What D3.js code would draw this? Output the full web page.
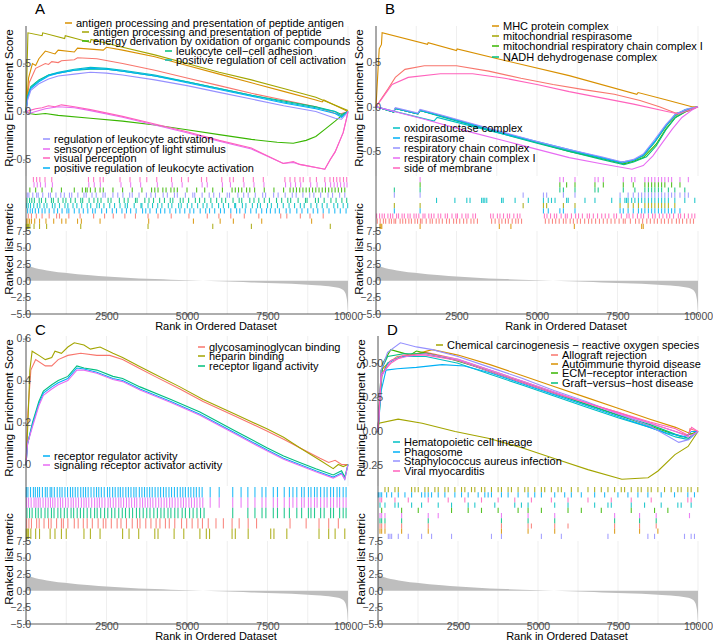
<!DOCTYPE html>
<html>
<head>
<meta charset="utf-8">
<script src="https://cdn.jsdelivr.net/npm/d3@7"></script>
<style>
  body { margin: 0; background: #fff; }
  svg { display: block; font-family: "Liberation Sans", Arial, sans-serif; }
</style>
</head>
<body>
<svg id="chart" width="713" height="643"></svg>
<script>
// ggplot hue palettes
var hue10 = ["#F8766D", "#D89000", "#A3A500", "#39B600", "#00BF7D", "#00BFC4", "#00B0F6", "#9590FF", "#E76BF3", "#FF62BC"];
var hue5 = ["#F8766D", "#A3A500", "#00BF7D", "#00B0F6", "#E76BF3"];

// shared x axis (rank) and ranked list metric
var rankDomain = [0, 10000];
var majorRanks = [2500, 5000, 7500, 10000];
var minorRanks = [1250, 3750, 6250, 8750];
var metricTicks = [-5, -2.5, 0, 2.5, 5, 7.5];
var metricRank = [0, 20, 60, 150, 300, 500, 800, 1200, 1600, 2000, 2500, 3000, 3500, 4000, 4500, 5000, 5500, 6000, 6500, 7000, 7500, 8000, 8500, 9000, 9300, 9500, 9700, 9800, 9900, 9950, 9980, 10000];
var metricValue = [2.8, 2.5, 2.3, 2.1, 1.9, 1.7, 1.45, 1.2, 1.0, 0.82, 0.64, 0.48, 0.36, 0.26, 0.16, 0.08, 0.0, -0.08, -0.16, -0.24, -0.33, -0.42, -0.53, -0.66, -0.77, -0.88, -1.05, -1.25, -1.7, -2.4, -3.4, -5.0];

// ---------- panel A ----------
var namesA = ["", "antigen processing and presentation of peptide antigen", "antigen processing and presentation of peptide",
  "energy derivation by oxidation of organic compounds", "leukocyte cell\u2212cell adhesion", "positive regulation of cell activation",
  "positive regulation of leukocyte activation", "regulation of leukocyte activation", "sensory perception of light stimulus", "visual perception"];
var scoreTicksA = [-0.5, 0, 0.5];
var esA = [
  [[0,0],[100,0.3],[300,0.45],[600,0.5],[700,0.49],[800,0.52],[1000,0.51],[1100,0.53],[1500,0.54],[1600,0.56],[2200,0.55],[3000,0.5],[4000,0.43],[5000,0.35],[6000,0.27],[7000,0.19],[8000,0.12],[9000,0.05],[9700,-0.03],[10000,0]],
  [[0,0],[80,0.35],[200,0.5],[300,0.48],[400,0.55],[600,0.63],[900,0.6],[1000,0.64],[1500,0.62],[1600,0.66],[2400,0.64],[2500,0.67],[3000,0.64],[4000,0.57],[5000,0.48],[6000,0.39],[7000,0.3],[8000,0.21],[9000,0.12],[9200,0.1],[9250,0.12],[10000,0]],
  [[0,0],[40,0.55],[60,0.82],[500,0.79],[520,0.82],[1200,0.76],[1220,0.79],[2000,0.72],[2020,0.75],[3000,0.67],[4000,0.59],[5000,0.5],[6000,0.41],[7000,0.33],[8000,0.24],[9000,0.15],[10000,0.01]],
  [[0,0],[100,-0.02],[300,-0.03],[600,-0.02],[1000,-0.04],[2000,-0.07],[3000,-0.1],[4000,-0.14],[5000,-0.19],[6000,-0.24],[7000,-0.29],[7800,-0.32],[8300,-0.33],[8700,-0.3],[9000,-0.26],[9300,-0.18],[9600,-0.1],[9850,-0.03],[10000,0]],
  [[0,0],[50,0.16],[150,0.26],[400,0.33],[700,0.38],[1000,0.4],[1500,0.43],[2000,0.44],[2500,0.44],[3000,0.42],[4000,0.37],[5000,0.31],[6000,0.24],[7000,0.17],[8000,0.11],[9000,0.05],[9600,0.0],[9800,-0.03],[10000,0]],
  [[0,0],[50,0.15],[150,0.25],[400,0.32],[700,0.38],[1000,0.41],[1500,0.44],[2000,0.46],[2500,0.45],[3000,0.43],[4000,0.38],[5000,0.31],[6000,0.24],[7000,0.17],[8000,0.1],[9000,0.04],[9600,0.0],[9800,-0.05],[10000,0]],
  [[0,0],[50,0.14],[150,0.24],[400,0.31],[700,0.37],[1000,0.4],[1500,0.43],[2000,0.45],[2500,0.44],[3000,0.42],[4000,0.37],[5000,0.3],[6000,0.23],[7000,0.16],[8000,0.09],[9000,0.03],[9600,-0.02],[9800,-0.06],[10000,0]],
  [[0,0],[50,0.12],[150,0.22],[400,0.29],[700,0.34],[1000,0.37],[1500,0.39],[2000,0.41],[2500,0.4],[3000,0.38],[4000,0.33],[5000,0.27],[6000,0.2],[7000,0.13],[8000,0.06],[9000,0.0],[9600,-0.07],[9800,-0.08],[10000,0]],
  [[0,0],[100,-0.02],[300,0.0],[600,0.03],[1000,0.05],[1500,0.04],[2000,0.01],[3000,-0.06],[4000,-0.14],[5000,-0.22],[6000,-0.31],[7000,-0.39],[7990,-0.54],[8300,-0.53],[8500,-0.55],[9280,-0.6],[9450,-0.5],[9600,-0.42],[9750,-0.3],[9850,-0.22],[9950,-0.08],[10000,0]],
  [[0,0],[100,0.01],[300,0.03],[500,0.04],[700,0.06],[900,0.05],[1100,0.07],[1500,0.05],[2000,0.02],[3000,-0.05],[4000,-0.13],[5000,-0.21],[6000,-0.3],[7000,-0.38],[7990,-0.54],[8300,-0.52],[8500,-0.55],[9280,-0.6],[9450,-0.5],[9600,-0.42],[9750,-0.3],[9850,-0.22],[9950,-0.08],[10000,0]]
];
var hitsA = [
  [70,170,320,500,720,950,1040,1330,1680,2100,2440,2710,3070,3400,3790,4100,4510,5060,5630,5990,6360,6780,7230,7910,8100,8520,8820,9230],
  [20,60,110,170,270,420,620,860,1110,1240,1600,1720,2300,3810,5200,6030,6440,7320,8870],
  [10,30,50,80,120,250,420,640,1700,3790,5800,7000,9450],
  [120,300,500,800,1100,1500,1750,1850,1900,2000,2150,2300,2400,2700,3000,3300,3600,3900,4000,4100,4250,4350,4500,4600,4700,5000,5300,5550,5800,6100,6400,6500,6600,6700,6850,6950,7100,7400,7700,8000,8200,8300,8400,8500,8600,8700,8800,8900,9000,9100,9200,9300,9400,9500,9600,9700,9800,9900],
  [30,110,180,260,410,480,610,790,850,1000,1150,1240,1390,1530,1700,1760,1960,2110,2230,2330,2550,2640,2900,3050,3170,3400,3450,3690,3820,3960,4150,4300,4480,4560,4790,4880,5050,5260,5390,5550,5740,5920,6080,6200,6430,6620,6700,6950,7080,7230,7400,7560,7780,7940,8130,8220,8450,8680,8730,8990,9080,9260,9470,9630,9810,9960],
  [20,70,140,240,350,430,560,650,820,900,1040,1210,1300,1460,1580,1730,1900,2010,2200,2280,2420,2600,2750,2920,3080,3150,3360,3570,3600,3790,3930,4090,4220,4420,4530,4740,4820,5010,5150,5330,5500,5620,5780,5980,6130,6290,6480,6510,6720,6830,7030,7190,7280,7500,7620,7810,7990,8170,8340,8520,8640,8850,9030,9200,9350,9560,9680,9850,9990],
  [50,130,200,290,390,500,590,720,870,980,1120,1270,1330,1500,1650,1780,1920,2070,2150,2350,2500,2680,2810,2980,3120,3250,3420,3620,3720,3850,4050,4180,4310,4470,4650,4780,4930,5090,5210,5410,5580,5700,5860,6040,6160,6360,6540,6640,6810,6980,7150,7320,7470,7590,7740,7870,8080,8200,8410,8570,8750,8920,9060,9230,9410,9590,9760,9940],
  [40,90,210,330,380,520,700,760,930,1080,1190,1350,1420,1610,1800,1870,2050,2180,2390,2460,2700,2850,3010,3220,3300,3510,3740,3880,4020,4260,4390,4610,4700,4950,5180,5240,5470,5690,5830,6010,6250,6320,6580,6760,6900,7120,7350,7440,7690,7830,8050,8270,8390,8600,8810,8940,9150,9380,9520,9740,9900],
  [250,350,450,600,820,1950,2120,2310,2950,3250,3560,4080,4540,4850,5470,5630,6100,6350,6770,7080,7390,8060,8220,8370,8530,8840,9040,9300,9460,9570,9670,9770,9880,9970],
  [230,330,430,590,800,1940,2100,2300,2400,2920,3230,3540,3750,4060,4520,4830,5040,5450,5610,6080,6330,6440,6750,7060,7370,8040,8200,8350,8510,8610,8820,9020,9280,9440,9550,9650,9750,9860,9960]
];
var rowsA = [9, 8, 3, 7, 4, 5, 6, 0, 1, 2];

// ---------- panel B ----------
var namesB = ["", "MHC protein complex", "mitochondrial respirasome", "mitochondrial respiratory chain complex I",
  "NADH dehydrogenase complex", "oxidoreductase complex", "respirasome", "respiratory chain complex",
  "respiratory chain complex I", "side of membrane"];
var scoreTicksB = [-0.5, 0, 0.5];
var esB = [
  [[0,0],[150,0.08],[370,0.2],[600,0.33],[900,0.42],[1500,0.46],[2500,0.46],[3500,0.4],[4500,0.32],[5500,0.25],[6500,0.19],[7400,0.14],[8200,0.07],[8800,0.0],[9300,-0.07],[9700,-0.05],[10000,0]],
  [[0,0],[60,0.4],[100,0.65],[170,0.7],[190,0.83],[1600,0.7],[1620,0.72],[2500,0.63],[2520,0.65],[4000,0.52],[6000,0.35],[8100,0.14],[8140,0.16],[9000,0.08],[9810,0.0],[10000,0]],
  [[0,0],[550,-0.06],[600,-0.02],[1300,-0.08],[1370,-0.04],[2000,-0.1],[3000,-0.2],[4000,-0.3],[5000,-0.4],[6000,-0.49],[7000,-0.57],[7650,-0.63],[8000,-0.6],[8300,-0.55],[8650,-0.4],[9000,-0.22],[9300,-0.1],[9600,-0.04],[10000,0]],
  [[0,0],[550,-0.06],[600,-0.02],[1300,-0.08],[1370,-0.04],[2000,-0.1],[3000,-0.2],[4000,-0.3],[5000,-0.4],[6000,-0.5],[7000,-0.58],[7700,-0.64],[8000,-0.61],[8300,-0.57],[8700,-0.42],[9000,-0.25],[9300,-0.12],[9700,-0.04],[10000,0]],
  [[0,0],[550,-0.06],[600,-0.02],[1300,-0.08],[1370,-0.04],[2000,-0.11],[3000,-0.21],[4000,-0.31],[5000,-0.41],[6000,-0.5],[7000,-0.59],[7700,-0.65],[8000,-0.62],[8400,-0.56],[8700,-0.44],[9000,-0.26],[9300,-0.12],[9700,-0.03],[10000,0]],
  [[0,0],[1800,-0.16],[1900,-0.12],[3000,-0.22],[4000,-0.31],[5000,-0.4],[6000,-0.49],[7000,-0.57],[7600,-0.62],[8000,-0.6],[8300,-0.55],[8650,-0.4],[9000,-0.22],[9300,-0.08],[9700,-0.03],[10000,0]],
  [[0,0],[550,-0.06],[600,-0.02],[1300,-0.08],[1370,-0.04],[2000,-0.1],[3000,-0.2],[4000,-0.3],[5000,-0.39],[6000,-0.48],[7000,-0.57],[7650,-0.63],[8000,-0.6],[8300,-0.54],[8650,-0.39],[9000,-0.21],[9300,-0.09],[9600,-0.03],[10000,0]],
  [[0,0],[550,-0.05],[600,-0.01],[1300,-0.07],[1370,-0.03],[2000,-0.09],[3000,-0.19],[4000,-0.29],[5000,-0.39],[6000,-0.48],[7000,-0.56],[7650,-0.62],[8000,-0.59],[8300,-0.53],[8650,-0.37],[9000,-0.2],[9300,-0.08],[9700,-0.02],[10000,0]],
  [[0,0],[1500,-0.14],[3000,-0.29],[4500,-0.43],[6000,-0.57],[7000,-0.64],[7950,-0.7],[8300,-0.66],[8600,-0.55],[8900,-0.4],[9200,-0.25],[9500,-0.12],[9800,-0.04],[10000,0]],
  [[0,0],[200,0.1],[500,0.25],[1000,0.33],[2000,0.37],[3000,0.37],[4000,0.32],[5000,0.25],[6000,0.17],[7000,0.1],[8000,0.03],[9000,-0.05],[9400,-0.08],[9700,-0.04],[10000,0]]
];
var hitsB = [
  [40,130,230,300,410,480,560,610,750,830,920,1020,1100,1210,1290,1380,1430,1560,1680,1750,1870,1960,2060,2190,2280,2410,2500,2600,2720,2820,2950,3040,3150,3590,3700,3820,3910,4020,4110,4230,4340,4420,4520,5260,5370,5480,5580,5690,5820,5900,6030,6130,6250,6350,6480,6600,6700,6820,6940,7060,7180,7300,7420,7550,7680,7740,7900,8060,8170,8280,8410,8520,8640,8740,8860,8960,9080,9190,9330,9420,9520,9650,9760,9860],
  [120,150,180,1370,3830,4190,6160,8250,8300],
  [570,1370,4570,5200,5300,5820,6180,7580,7830,7990,8150,8350,8460,8560,8660,8770,8870,8970,9080,9280],
  [1370,5710,5920,6180,6800,7060,7680,7990,8350,8460,8560,8660,8770,8870,8970,9180,9440],
  [570,1370,5710,5820,6180,6800,6900,7680,8040,8350,8460,8560,8660,8770,8870,9080,9280,9590],
  [1880,2450,2820,2920,3280,3330,3380,3440,3900,3950,4320,4730,5200,5350,5450,5560,5920,5970,6490,6800,7320,7580,7730,7780,7830,7940,8040,8150,8250,8350,8460,8560,8660,8770,8870,8970,9080,9280,9590,9900],
  [570,1370,5200,5350,5710,5820,6180,7580,7680,7830,7990,8150,8250,8350,8460,8560,8660,8770,8870,8970,9080,9180,9280,9440],
  [570,1370,4570,5200,5300,5820,6180,7580,7830,7990,8150,8250,8350,8460,8560,8660,8770,8870,8970,9080,9180,9280,9440,9590,9700],
  [1370,5710,5820,6180,6800,6900,7060,7680,7940,8040,8350,8460,8560,8660,8770,8870,8970,9080,9180,9440,9700],
  [20,110,190,260,370,450,520,640,700,810,880,990,1060,1180,1250,1330,1460,1520,1640,1720,1800,1930,2010,2150,2220,2360,2480,2530,2670,2790,2860,3010,3090,3560,3640,3770,3850,3960,4080,4150,4280,4390,4470,5230,5310,5420,5540,5610,5750,5880,5940,6070,6200,6290,6410,6560,6630,6750,6880,7010,7120,7230,7390,7470,7620,7790,7860,7980,8120,8230,8310,8460,8590,8670,8800,8910,9030,9120,9240,9390,9460,9580,9700,9810,9900]
];
var rowsB = [8, 3, 4, 7, 5, 2, 6, 9, 0, 1];

// ---------- panel C ----------
var namesC = ["glycosaminoglycan binding", "heparin binding", "receptor ligand activity", "receptor regulator activity", "signaling receptor activator activity"];
var scoreTicksC = [0, 0.2, 0.4, 0.6];
var esC = [
  [[0,0],[60,0.25],[150,0.45],[300,0.5],[600,0.47],[800,0.47],[1000,0.5],[1300,0.52],[1700,0.53],[2200,0.52],[2600,0.52],[3000,0.5],[3500,0.46],[4000,0.42],[4780,0.36],[5500,0.3],[6500,0.23],[7480,0.16],[8000,0.12],[8500,0.08],[9130,0.03],[9400,0.01],[9600,0.02],[9800,0.0],[10000,0]],
  [[0,0],[60,0.2],[120,0.45],[190,0.54],[400,0.52],[600,0.5],[800,0.51],[900,0.54],[1100,0.53],[1300,0.56],[1500,0.58],[1800,0.57],[2000,0.55],[2300,0.56],[2700,0.53],[3000,0.51],[3500,0.47],[4000,0.43],[4780,0.37],[5500,0.31],[6500,0.24],[7480,0.17],[8000,0.13],[8500,0.08],[9130,0.02],[9540,-0.02],[9700,0.0],[9850,-0.01],[10000,0]],
  [[0,0],[50,0.1],[200,0.2],[400,0.3],[540,0.35],[800,0.38],[1000,0.4],[1300,0.42],[1580,0.47],[1800,0.46],[2200,0.45],[2700,0.42],[3000,0.41],[3540,0.37],[4500,0.31],[5400,0.25],[6500,0.16],[7480,0.08],[8000,0.04],[8500,0.01],[9000,-0.02],[9540,-0.05],[9800,-0.03],[9900,-0.06],[10000,0]],
  [[0,0],[50,0.1],[200,0.19],[400,0.29],[540,0.34],[800,0.37],[1000,0.39],[1300,0.41],[1580,0.46],[1800,0.455],[2200,0.44],[2700,0.41],[3000,0.4],[3540,0.36],[4500,0.3],[5400,0.24],[6500,0.15],[7480,0.07],[8000,0.03],[8500,0.0],[9000,-0.03],[9540,-0.06],[9800,-0.04],[9900,-0.07],[10000,0]],
  [[0,0],[50,0.1],[200,0.18],[400,0.28],[540,0.33],[800,0.36],[1000,0.38],[1300,0.4],[1580,0.45],[1800,0.45],[2200,0.435],[2700,0.405],[3000,0.395],[3540,0.355],[4500,0.295],[5400,0.235],[6500,0.145],[7480,0.065],[8000,0.025],[8500,-0.005],[9000,-0.035],[9540,-0.065],[9800,-0.045],[9900,-0.07],[10000,0]]
];
var hitsC = [
  [20,90,170,330,410,560,700,780,950,1100,1160,1300,1500,1620,1780,1900,2060,2240,2400,2480,2650,2830,2950,3120,3300,3460,3540,3720,3880,4040,4160,4330,4450,4620,4830,4990,5160,5340,5480,5660,5900,6130,6400,6620,6900,7160,8200,8700,9100,9400,9700],
  [10,40,80,150,300,420,750,900,1100,1250,1800,2000,2300,3000,3200,3500,4000,4100,4600,4900,5400,5600,5700,6400,6500,6900,7600,7700,8100,9100,9400,9600,9900],
  [30,110,190,300,380,470,590,680,790,870,990,1080,1190,1280,1400,1480,1590,1690,1790,1900,2010,2130,2210,2320,2440,2540,2660,2760,2880,2990,3090,3210,3310,3430,3530,3640,3750,3850,3970,4080,4190,4290,4410,4500,4620,4720,4850,4950,5080,5190,5310,5420,5530,6420,6890,7110,7330,7450,7680,7810,8020,8180,8410,8560,8770,8850,8960,9150,9260,9460,9550,9740,9850,9940],
  [10,60,140,230,290,360,420,510,600,660,750,800,880,970,1050,1120,1210,1290,1380,1450,1530,1610,1700,1780,1850,1930,2020,2110,2190,2260,2340,2430,2530,2600,2690,2770,2860,2930,3010,3100,3180,3260,3350,3420,3520,3600,3680,3760,3840,3920,4010,4100,4180,4270,4350,4440,4520,4610,4700,4790,4870,4950,5040,5120,5210,5290,5380,5470,5720,6000,6420,6680,6890,7110,7330,7450,7680,7810,8020,8180,8290,8410,8560,8640,8770,8850,8960,9040,9150,9260,9350,9460,9550,9660,9740,9850,9940],
  [20,80,160,250,310,380,440,530,610,690,760,830,900,990,1070,1140,1230,1310,1400,1470,1550,1630,1720,1800,1870,1950,2040,2130,2210,2280,2360,2450,2550,2620,2710,2790,2880,2950,3030,3120,3200,3280,3370,3440,3540,3620,3700,3780,3860,3940,4030,4120,4200,4290,4370,4460,4540,4630,4720,4810,4890,4970,5060,5140,5230,5310,5400,5490,5720,6000,6420,6680,6890,7110,7330,7450,7680,7810,8020,8180,8290,8410,8560,8640,8770,8850,8960,9040,9150,9260,9350,9460,9550,9660,9740,9850,9940]
];
var rowsC = [3, 4, 2, 0, 1];

// ---------- panel D ----------
var namesD = ["Allograft rejection", "Autoimmune thyroid disease", "Chemical carcinogenesis \u2212 reactive oxygen species",
  "ECM\u2212receptor interaction", "Graft\u2212versus\u2212host disease", "Hematopoietic cell lineage", "Phagosome",
  "Staphylococcus aureus infection", "", "Viral myocarditis"];
var scoreTicksD = [-0.25, 0, 0.25, 0.5];
var esD = [
  [[0,0],[100,0.4],[300,0.5],[600,0.55],[1000,0.56],[1500,0.58],[2500,0.53],[3500,0.45],[4500,0.37],[5500,0.29],[6500,0.21],[7500,0.14],[8500,0.06],[9300,0.0],[9700,-0.03],[9750,0.02],[10000,0]],
  [[0,0],[100,0.45],[400,0.52],[800,0.55],[1200,0.57],[1700,0.6],[2500,0.56],[3500,0.49],[4500,0.41],[5500,0.33],[6500,0.25],[7500,0.17],[8500,0.09],[9300,0.03],[9800,-0.02],[10000,0]],
  [[0,0],[30,0.06],[630,0.09],[1380,0.06],[2410,0.0],[3440,-0.05],[4500,-0.12],[5530,-0.2],[6560,-0.28],[7620,-0.35],[8440,-0.34],[8750,-0.29],[9280,-0.17],[9690,-0.11],[10000,0]],
  [[0,0],[150,0.5],[400,0.6],[700,0.58],[1000,0.56],[1200,0.59],[2000,0.55],[3000,0.48],[4000,0.4],[5000,0.32],[6000,0.24],[7000,0.16],[8000,0.08],[9000,0.0],[9500,-0.04],[10000,0]],
  [[0,0],[100,0.45],[300,0.55],[800,0.57],[1500,0.57],[2500,0.52],[3500,0.44],[4500,0.36],[5500,0.28],[6500,0.2],[7500,0.12],[8500,0.05],[9300,-0.02],[9700,-0.05],[10000,0]],
  [[0,0],[100,0.4],[300,0.5],[700,0.55],[1500,0.55],[2500,0.5],[3500,0.42],[4500,0.34],[5500,0.26],[6500,0.18],[7500,0.1],[8500,0.03],[9300,-0.04],[9700,-0.06],[10000,0]],
  [[0,0],[100,0.3],[250,0.45],[600,0.46],[1200,0.47],[2000,0.49],[2700,0.48],[3500,0.43],[4500,0.35],[5500,0.27],[6500,0.19],[7500,0.11],[8500,0.03],[9000,-0.01],[9600,-0.04],[9800,0.0],[10000,0]],
  [[0,0],[100,0.45],[300,0.58],[700,0.65],[1200,0.62],[1700,0.6],[2500,0.55],[3500,0.47],[4500,0.39],[5500,0.3],[6500,0.22],[7500,0.13],[8500,0.04],[9400,-0.08],[9700,-0.06],[10000,0]],
  [[0,0],[100,0.4],[400,0.52],[900,0.55],[1500,0.57],[2500,0.53],[3500,0.45],[4500,0.37],[5500,0.29],[6500,0.21],[7500,0.13],[8500,0.06],[9300,0.0],[9700,-0.04],[10000,0]],
  [[0,0],[100,0.42],[400,0.5],[800,0.56],[1500,0.56],[2500,0.52],[3500,0.44],[4500,0.36],[5500,0.28],[6500,0.21],[7500,0.14],[8500,0.07],[9300,0.02],[9700,-0.03],[9800,0.03],[10000,0]]
];
var hitsD = [
  [62,114,218,738,1570,3858,4690,4794,5522,5938,7394,8174,8694],
  [62,114,218,738,1570,3858,4690,5522,7394,8174,8746],
  [218,322,530,634,1050,1154,1258,1466,1570,1778,1882,2090,2194,2402,2610,2714,2922,3026,3234,3338,3546,3754,3858,4066,4170,4378,4586,4690,4898,5106,5210,5418,5626,5730,6042,6250,6562,6770,6978,7186,7394,7602,7706,7914,8122,8226,8434,8538,8746,8954,9162,9370,9474,9682,9786,9994],
  [114,738,1258,2298,2818,3234,3754,4378,4690,5106,5938,6354,6978,7914,8642,9058],
  [62,114,218,738,1570,3858,4690,5522,7394,8174,8694],
  [62,218,530,634,1050,1362,1882,2298,2818,3026,3650,4274,4482,4690,5522,5938,6770,7186,7290,7914,8330,8850,9370,9474,9786],
  [10,62,114,270,426,634,842,1050,1362,1466,1570,1674,1882,2090,2402,2610,2818,3130,3338,3442,3546,3858,4066,4378,4690,4898,5106,5522,5834,6042,6354,6770,7082,7498,7810,8122,8434,8850,9266,9682,9890],
  [322,374,426,634,946,1362,1674,2298,3546,3858,5106,5730,7186,8434,8642,9578,9786,9890],
  [62,114,218,738,1570,1882,3858,4690,5522,7394,8174,8694,9734],
  [62,114,530,946,1570,2194,2714,3234,3754,4274,4794,5418,5938,6562,7290,7914,8538,9682,9786]
];
var rowsD = [2, 6, 9, 5, 3, 8, 4, 0, 1, 7];

// ---------- layout ----------
var panels = [
  { tag: "A", names: namesA, es: esA, hits: hitsA, rows: rowsA, ticks: scoreTicksA, fmt: ".1f", pal: hue10, left: 26, right: 348, top: 0,
    legend: [[1,65,23],[2,82,32],[3,82,41],[4,165,51],[5,165,60],[7,43,139],[8,43,149],[9,43,158],[6,43,168]] },
  { tag: "B", names: namesB, es: esB, hits: hitsB, rows: rowsB, ticks: scoreTicksB, fmt: ".1f", pal: hue10, left: 376, right: 698, top: 0,
    mask: [350, 0, 363, 311],
    legend: [[1,492,26],[2,492,36],[3,492,46],[4,492,57],[5,393,128],[6,393,138],[7,393,148],[8,393,158],[9,393,168]] },
  { tag: "C", names: namesC, es: esC, hits: hitsC, rows: rowsC, ticks: scoreTicksC, fmt: ".1f", pal: hue5, left: 26, right: 348, top: 310,
    legend: [[0,198,347],[1,198,356],[2,198,366],[3,43,456],[4,43,465]] },
  { tag: "D", names: namesD, es: esD, hits: hitsD, rows: rowsD, ticks: scoreTicksD, fmt: ".2f", pal: hue10, left: 378, right: 698, top: 310,
    legend: [[2,436,345],[0,551,355],[1,551,364],[3,551,373],[4,551,383],[5,393,442],[6,393,452],[7,393,461],[9,393,471]] }
];

var svg = d3.select("#chart");
svg.append("rect").attr("width", 713).attr("height", 643).attr("fill", "#fff");

panels.forEach(drawPanel);

function drawPanel(p) {
  var g = svg.append("g");
  if (p.mask) {
    g.append("rect").attr("x", p.mask[0]).attr("y", p.mask[1])
      .attr("width", p.mask[2]).attr("height", p.mask[3]).attr("fill", "#fff");
  }

  var x = d3.scaleLinear().domain(rankDomain).range([p.left, p.right]);

  // ggplot style 5% expansion of the running score range
  var vals = [];
  p.es.forEach(function(s) { s.forEach(function(d) { vals.push(d[1]); }); });
  var lo = d3.min(vals), hi = d3.max(vals), pad = (hi - lo) * 0.05;
  var y = d3.scaleLinear().domain([lo - pad, hi + pad]).range([p.top + 176, p.top + 26]);
  var ym = d3.scaleLinear().domain(d3.extent(metricTicks)).range([p.top + 314, p.top + 231]);

  // vertical grid in score and metric panels
  var grid = [0].concat(majorRanks, minorRanks);
  [[p.top + 26, p.top + 176], [p.top + 231, p.top + 314]].forEach(function(r) {
    g.selectAll(null).data(grid).enter().append("line")
      .attr("x1", function(d) { return x(d); }).attr("x2", function(d) { return x(d); })
      .attr("y1", r[0]).attr("y2", r[1])
      .attr("stroke", "#EBEBEB").attr("stroke-width", 0.8);
  });

  // ranked list metric
  var metric = metricRank.map(function(r, i) { return [r, metricValue[i]]; });
  g.append("path").datum(metric)
    .attr("d", d3.area().x(function(d) { return x(d[0]); }).y0(ym(0)).y1(function(d) { return ym(d[1]); }).curve(d3.curveMonotoneX))
    .attr("fill", "#BEBEBE");

  // hit rugs, one row per gene set
  var rh = 52 / p.rows.length;
  p.rows.forEach(function(si, ri) {
    g.selectAll(null).data(p.hits[si]).enter().append("line")
      .attr("x1", function(d) { return x(d); }).attr("x2", function(d) { return x(d); })
      .attr("y1", p.top + 177 + ri * rh).attr("y2", p.top + 177 + (ri + 1) * rh)
      .attr("stroke", p.pal[si]).attr("stroke-width", 1.1).attr("stroke-opacity", 0.85);
  });

  // running enrichment score curves
  var line = d3.line().x(function(d) { return x(d[0]); }).y(function(d) { return y(d[1]); });
  p.es.forEach(function(s, i) {
    g.append("path").attr("d", line(s)).attr("fill", "none")
      .attr("stroke", p.pal[i]).attr("stroke-width", 1.1);
  });

  // axes
  var yAxis = g.append("g").attr("transform", "translate(" + p.left + ",0)")
    .call(d3.axisLeft(y).tickValues(p.ticks).tickFormat(d3.format(p.fmt)).tickSize(3).tickPadding(-8));
  var mAxis = g.append("g").attr("transform", "translate(" + p.left + ",0)")
    .call(d3.axisLeft(ym).tickValues(metricTicks).tickFormat(d3.format(".1f")).tickSize(3).tickPadding(-8));
  var xAxis = g.append("g").attr("transform", "translate(0," + (p.top + 314) + ")")
    .call(d3.axisBottom(x).tickValues(majorRanks).tickFormat(d3.format("d")).tickSize(3).tickPadding(-4));
  [yAxis, mAxis, xAxis].forEach(function(a) {
    a.select(".domain").remove();
    a.selectAll("line").attr("stroke", "#333").attr("stroke-width", 0.6);
    a.selectAll("text").attr("fill", "#4D4D4D").style("font-size", "10.5px")
      .style("font-family", "'Liberation Sans', Arial, sans-serif");
  });
  g.append("line").attr("x1", p.left).attr("x2", p.left).attr("y1", p.top + 26).attr("y2", p.top + 314)
    .attr("stroke", "#333").attr("stroke-width", 0.8);
  g.append("line").attr("x1", p.left).attr("x2", p.right).attr("y1", p.top + 314).attr("y2", p.top + 314)
    .attr("stroke", "#333").attr("stroke-width", 0.8);

  // titles
  g.append("text").attr("transform", "translate(" + (p.left - 17) + "," + (p.top + 98) + ") rotate(-90)")
    .attr("text-anchor", "middle").attr("dy", "0.35em").style("font-size", "11.5px").text("Running Enrichment Score");
  g.append("text").attr("transform", "translate(" + (p.left - 17) + "," + (p.top + 249) + ") rotate(-90)")
    .attr("text-anchor", "middle").attr("dy", "0.35em").style("font-size", "11.5px").text("Ranked list metric");
  g.append("text").attr("x", (p.left + p.right) / 2 + 29).attr("y", p.top + 330)
    .attr("text-anchor", "middle").style("font-size", "11px").text("Rank in Ordered Dataset");
  g.append("text").attr("x", p.left + 9).attr("y", p.top + (p.top ? 25 : 14))
    .style("font-size", "15px").text(p.tag);

  // legend entries
  p.legend.forEach(function(e) {
    var i = e[0];
    g.append("line").attr("x1", e[1]).attr("x2", e[1] + 7).attr("y1", e[2]).attr("y2", e[2])
      .attr("stroke", p.pal[i]).attr("stroke-width", 1.5);
    g.append("text").attr("x", e[1] + 11).attr("y", e[2]).attr("dy", "0.35em")
      .style("font-size", "11px").text(p.names[i]);
  });
}
</script>
</body>
</html>
